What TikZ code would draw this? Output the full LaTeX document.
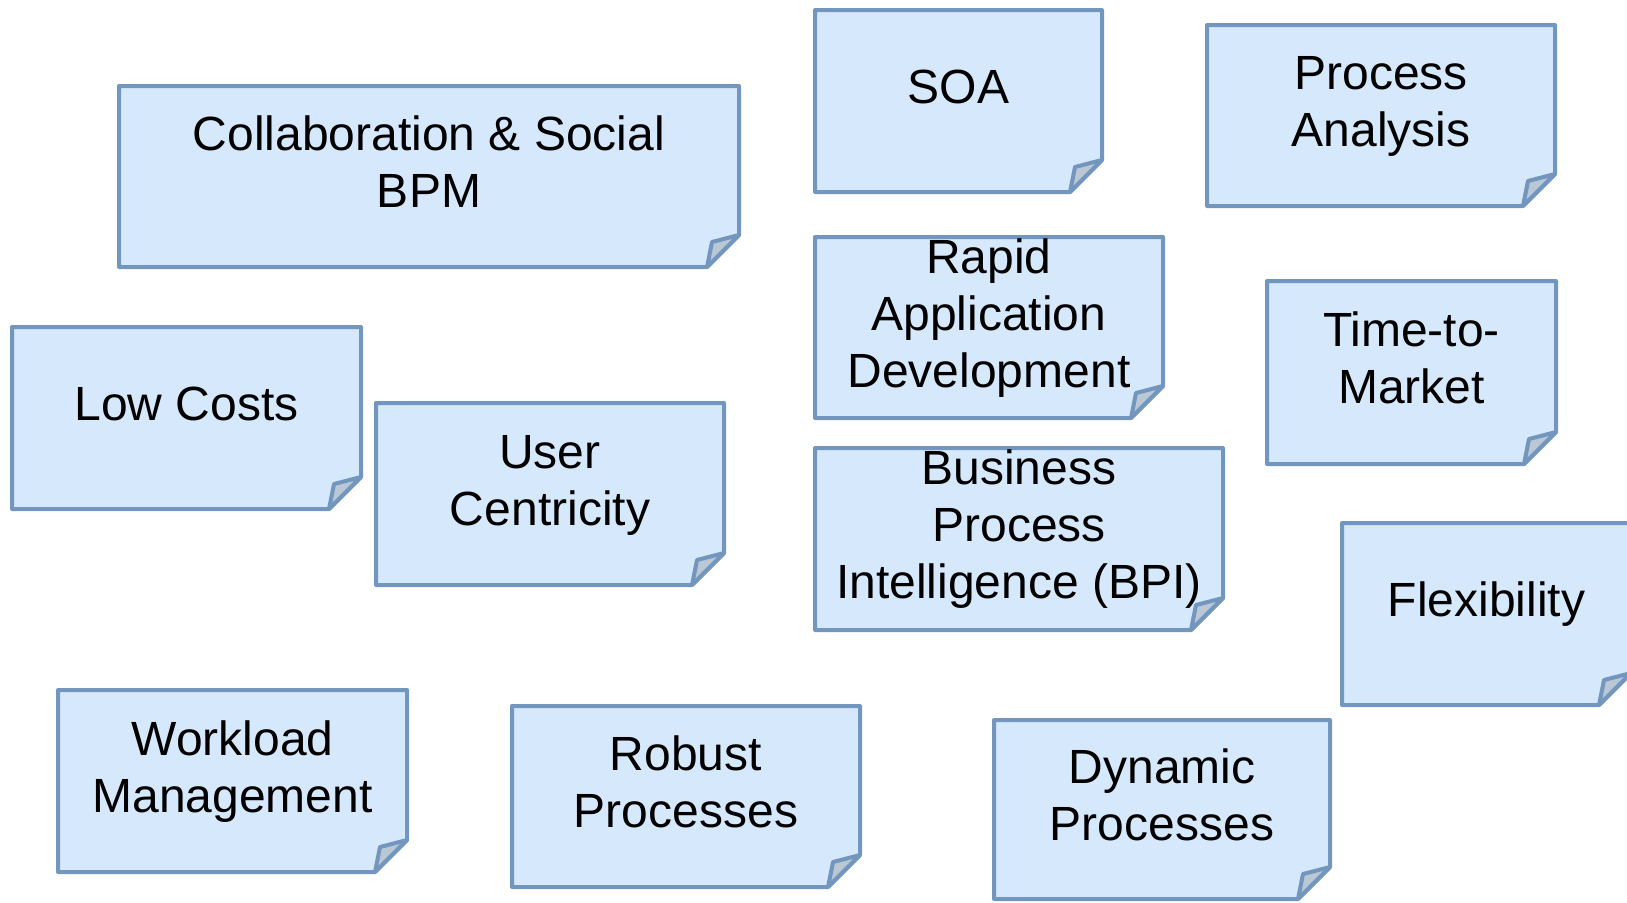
\documentclass[tikz,border=0pt]{standalone}
\usepackage{fontspec}
\setmainfont{Liberation Sans}
\definecolor{noteedge}{RGB}{114,150,189}
\definecolor{notefill}{RGB}{214,232,252}
\definecolor{foldfill}{RGB}{186,199,213}
\tikzset{
  notebox/.style={draw=noteedge, fill=notefill, line width=4pt, line join=round},
  notefold/.style={draw=noteedge, fill=foldfill, line width=4pt, line join=round},
  notetext/.style={inner sep=0pt, align=center, font=\fontsize{48}{57}\selectfont}
}
% sticky note: name, left, top, right, bottom, text
% struts on the first and last line keep the block centred on its baselines
\newcommand\stickynote[6]{%
  \draw[notebox] (#2,#3) -- (#4,#3) -- (#4,{#5-32}) -- ({#4-32},#5) -- (#2,#5) -- cycle;
  \draw[notefold] ({#4-32},#5) -- ({#4-27},{#5-25}) -- (#4,{#5-32}) -- cycle;
  \node[notetext] (#1) at ({(#2+#4)/2},{(#3+#5)/2-8.5}) {\strut#6\strut};
}
\begin{document}
\begin{tikzpicture}[x=1pt,y=-1pt]
\useasboundingbox (0,0) rectangle (1627,902);
\clip (0,0) rectangle (1627,902);
\stickynote{collab}{119}{86}{739}{267}{Collaboration \& Social\\BPM}
\stickynote{soa}{815}{10}{1102}{192}{SOA}
\stickynote{procana}{1207}{25}{1555}{206}{Process\\Analysis}
\stickynote{rad}{815}{237}{1163}{418}{Rapid\\Application\\Development}
\stickynote{ttm}{1267}{281}{1556}{464}{Time-to-\\Market}
\stickynote{lowcost}{12}{327}{361}{509}{Low Costs}
\stickynote{usercent}{376}{403}{724}{585}{User\\Centricity}
\stickynote{bpi}{815}{448}{1223}{630}{Business\\Process\\Intelligence (BPI)}
\stickynote{flex}{1342}{523}{1631}{705}{Flexibility}
\stickynote{workload}{58}{690}{407}{872}{Workload\\Management}
\stickynote{robust}{512}{706}{860}{887}{Robust\\Processes}
\stickynote{dynamic}{994}{720}{1330}{899}{Dynamic\\Processes}
\end{tikzpicture}
\end{document}
